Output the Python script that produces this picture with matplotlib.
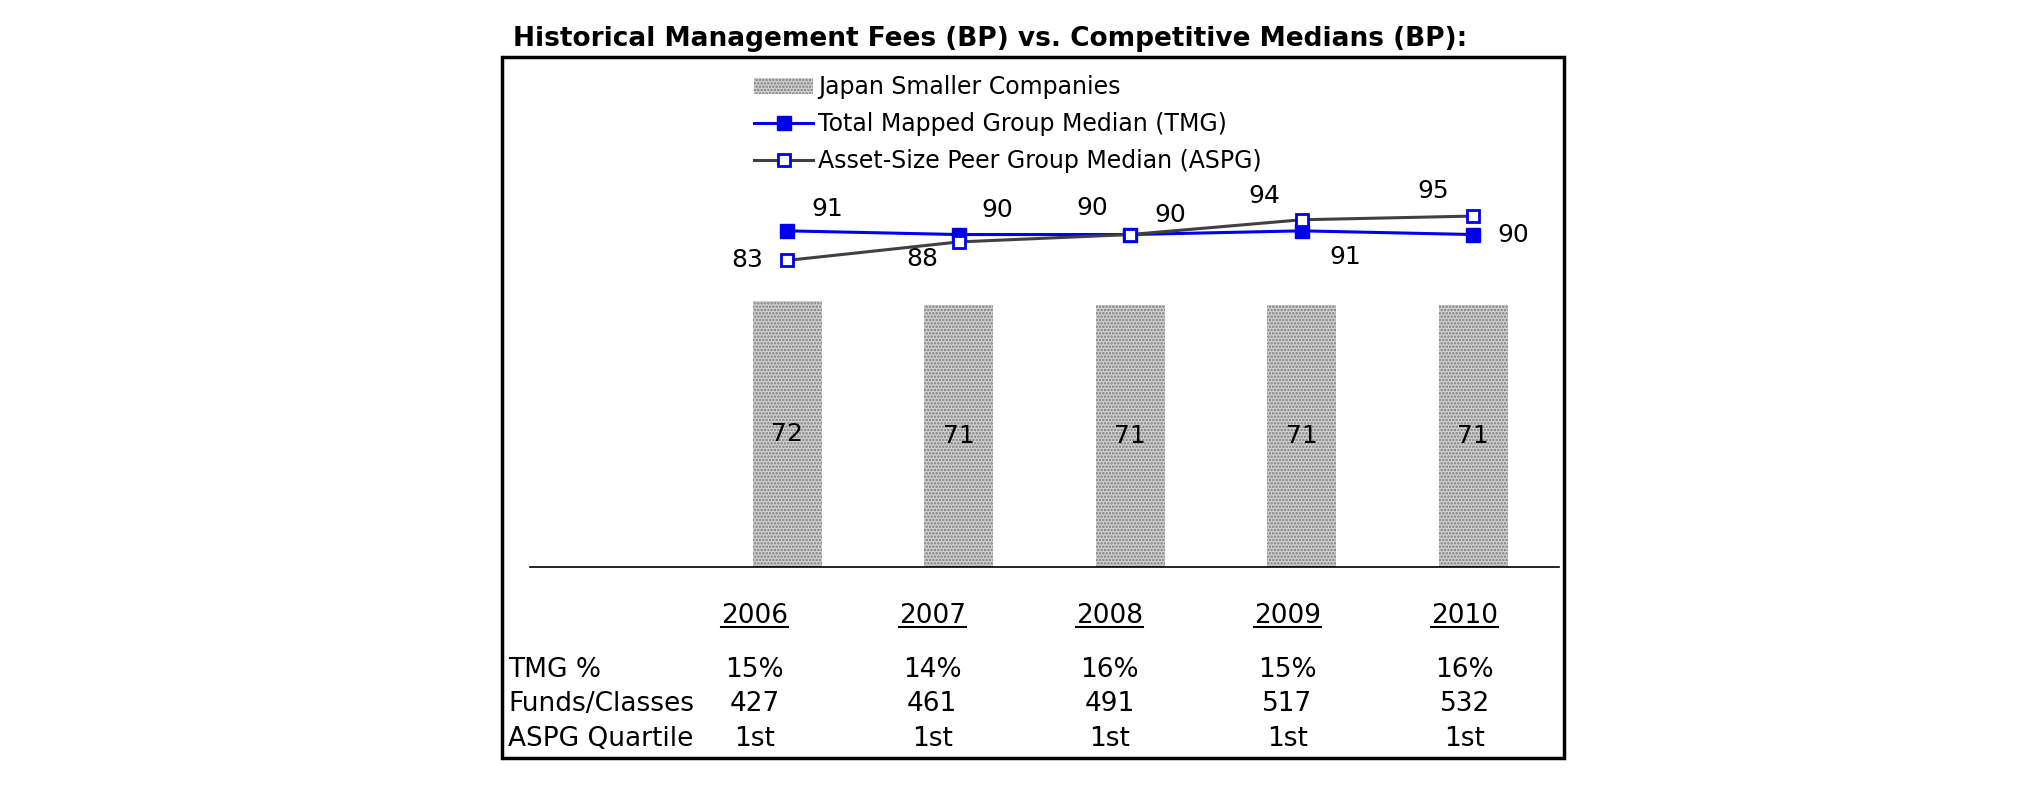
import matplotlib
matplotlib.use('Agg')
import matplotlib.pyplot as plt
import matplotlib.transforms as mtransforms
from matplotlib.patches import Rectangle
from matplotlib.lines import Line2D

plt.rcParams['font.family'] = ['DejaVu Sans']
plt.rcParams['hatch.linewidth'] = 1.2

# data
years = ['2006', '2007', '2008', '2009', '2010']
fund_fees = [72, 71, 71, 71, 71]
tmg_median = [91, 90, 90, 91, 90]
aspg_median = [83, 88, 90, 94, 95]
tmg_pct = ['15%', '14%', '16%', '15%', '16%']
funds_classes = ['427', '461', '491', '517', '532']
aspg_quartile = ['1st', '1st', '1st', '1st', '1st']

W, H = 2025, 806
fig = plt.figure(figsize=(W / 100, H / 100), dpi=100)

# plot area: zero line at y=567px, ~3.69 px per bp
ax = fig.add_axes([530 / W, 1 - 567 / H, (1559 - 530) / W, (567 - 62) / H])
x = list(range(len(years)))

bars = ax.bar(x, fund_fees, width=0.4, color='#d2d2d2', edgecolor='#7a7a7a',
              linewidth=0, hatch='.....', label='Japan Smaller Companies', zorder=1)
l1, = ax.plot(x, tmg_median, color='#0000ee', lw=2.2, marker='s', ms=10,
              mfc='#0000ee', mec='#0000ee', label='Total Mapped Group Median (TMG)', zorder=3)
l2, = ax.plot(x, aspg_median, color='#404040', lw=2.2, marker='s', ms=9,
              mfc='white', mec='#0000ee', mew=2, label='Asset-Size Peer Group Median (ASPG)', zorder=4)

ax.set_xlim(-1.5, 4.5)
ax.set_ylim(0, (567 - 62) / 3.694)
for s in ['top', 'left', 'right']:
    ax.spines[s].set_visible(False)
ax.spines['bottom'].set_linewidth(1.2)
ax.set_xticks([])
ax.set_yticks([])

# bar values in the middle of each bar
for xi, v in zip(x, fund_fees):
    ax.text(xi, v / 2, str(v), ha='center', va='center', fontsize=18)

# point labels, offsets in points
tmg_off = [(29, 16), (28, 18), (29, 14), (31, -19), (29, 0)]
aspg_off = [(-29, 0), (-26, -12), (-27, 19), (-27, 17), (-29, 18)]
for xi, v, o in zip(x, tmg_median, tmg_off):
    ax.annotate(str(v), (xi, v), xytext=o, textcoords='offset points',
                ha='center', va='center', fontsize=18)
for xi, v, o in zip(x, aspg_median, aspg_off):
    ax.annotate(str(v), (xi, v), xytext=o, textcoords='offset points',
                ha='center', va='center', fontsize=18)

ax.legend(handles=[bars, l1, l2], loc='upper left', bbox_to_anchor=(745 / W, 1 - 66 / H),
          bbox_transform=fig.transFigure, frameon=False, fontsize=17,
          handlelength=2.5, handletextpad=0.2, labelspacing=0.55, borderaxespad=0)

# title and outer box
fig.text(513 / W, 1 - 39 / H, 'Historical Management Fees (BP) vs. Competitive Medians (BP):',
         fontsize=19, fontweight='bold', ha='left', va='center')
fig.patches.append(Rectangle((502 / W, 1 - 758 / H), (1564 - 502) / W, (758 - 57) / H,
                             transform=fig.transFigure, fill=False, lw=2.5, ec='black'))

# table under the chart
trans = mtransforms.blended_transform_factory(ax.transData, fig.transFigure)


def col_x(i):
    return i * 1.035 - 0.19


year_texts = []
for xi, yr in zip(x, years):
    t = ax.text(col_x(xi), 1 - 616 / H, yr, transform=trans, ha='center',
                va='center', fontsize=19)
    year_texts.append(t)

rows = [('TMG %', tmg_pct, 670), ('Funds/Classes', funds_classes, 704),
        ('ASPG Quartile', aspg_quartile, 739)]
for label, vals, ypx in rows:
    fig.text(508 / W, 1 - ypx / H, label, fontsize=19, ha='left', va='center')
    for xi, v in zip(x, vals):
        ax.text(col_x(xi), 1 - ypx / H, v, transform=trans, ha='center',
                va='center', fontsize=19)

# underline the years
fig.canvas.draw()
inv = fig.transFigure.inverted()
for t in year_texts:
    bb = t.get_window_extent()
    (x0, y0), (x1, y1) = inv.transform([(bb.x0, bb.y0), (bb.x1, bb.y1)])
    fig.lines.append(Line2D([x0, x1], [y0 + 0.002, y0 + 0.002], transform=fig.transFigure,
                            color='black', lw=1.5))

plt.savefig('out.png', dpi=100)
